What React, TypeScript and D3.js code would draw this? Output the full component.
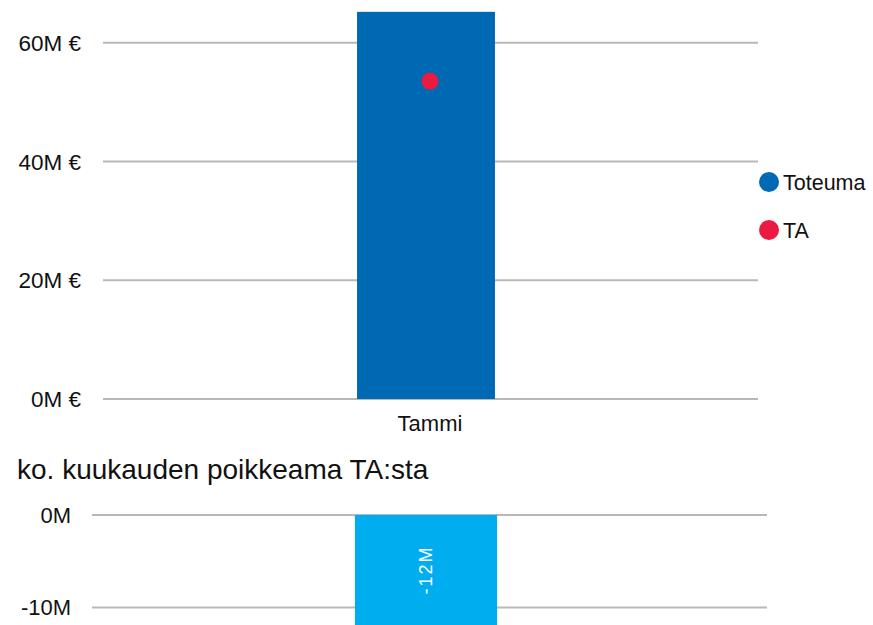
import React from "react";
import * as d3 from "d3";

const categories = ["Tammi"];
const toteuma = [65.2]; // M€
const ta = [53.5]; // M€
const deviation = [-12]; // M
const topTicks = [0, 20, 40, 60];
const bottomTicks = [-10, 0];
const legendItems = ["Toteuma", "TA"];
const bottomTitle = "ko. kuukauden poikkeama TA:sta";

const BLUE = "#0069B4";
const RED = "#EA1A40";
const LIGHT = "#00AEEF";
const GRID = "#b8b8b8";
const FONT = "'Liberation Sans', Arial, sans-serif";

export default function App() {
  const W = 873;
  const H = 625;

  // top chart
  const yTop = d3.scaleLinear().domain([0, 60]).range([399, 42.7]);
  const xTop = d3.scaleBand().domain(categories).range([95, 757]).paddingInner(0).paddingOuter(1.9);
  const gridTop: [number, number] = [103, 758];

  // bottom chart
  const yBot = d3.scaleLinear().domain([-10, 0]).range([607.5, 515]);
  const xBot = d3.scaleBand().domain(categories).range([92, 760]).paddingInner(0).paddingOuter(1.85);
  const gridBot: [number, number] = [92, 767];

  const legendColors = [BLUE, RED];

  return (
    <svg
      width={W}
      height={H}
      style={{ position: "absolute", left: 0, top: 0, background: "#fff" }}
      fontFamily={FONT}
    >
      {/* top grid */}
      {topTicks.map((t) => (
        <g key={"tt" + t}>
          <line x1={gridTop[0]} x2={gridTop[1]} y1={yTop(t)} y2={yTop(t)} stroke={GRID} strokeWidth={2} />
          <text x={81} y={yTop(t)} dy="0.36em" textAnchor="end" fontSize={22.5} fill="#111">
            {`${t}M €`}
          </text>
        </g>
      ))}
      {/* top bars */}
      {categories.map((c, i) => (
        <rect
          key={"b" + c}
          x={xTop(c)!}
          width={xTop.bandwidth()}
          y={yTop(toteuma[i])}
          height={yTop(0) - yTop(toteuma[i])}
          fill={BLUE}
        />
      ))}
      {categories.map((c, i) => (
        <circle key={"d" + c} cx={xTop(c)! + xTop.bandwidth() / 2 + 4} cy={yTop(ta[i])} r={8.5} fill={RED} />
      ))}
      {categories.map((c) => (
        <text key={"l" + c} x={xTop(c)! + xTop.bandwidth() / 2 + 4} y={431} textAnchor="middle" fontSize={22} fill="#111">
          {c}
        </text>
      ))}
      {/* legend */}
      {legendItems.map((name, i) => (
        <g key={name}>
          <circle cx={769} cy={182 + i * 48} r={10} fill={legendColors[i]} />
          <text x={783} y={182 + i * 48} dy="0.36em" fontSize={21.5} fill="#111">
            {name}
          </text>
        </g>
      ))}

      {/* bottom title */}
      <text x={17} y={479} fontSize={28} fill="#111">
        {bottomTitle}
      </text>

      {/* bottom grid */}
      {bottomTicks.map((t) => (
        <g key={"bt" + t}>
          <line x1={gridBot[0]} x2={gridBot[1]} y1={yBot(t)} y2={yBot(t)} stroke={GRID} strokeWidth={2} />
          <text x={71} y={yBot(t)} dy="0.36em" textAnchor="end" fontSize={22} fill="#111">
            {`${t}M`}
          </text>
        </g>
      ))}
      {categories.map((c, i) => {
        const v = deviation[i];
        const y0 = yBot(Math.max(0, v));
        const y1 = yBot(Math.min(0, v));
        const cx = xBot(c)! + xBot.bandwidth() / 2;
        const cy = (y0 + Math.min(y1, H)) / 2;
        return (
          <g key={"db" + c}>
            <rect x={xBot(c)!} width={xBot.bandwidth()} y={y0} height={y1 - y0} fill={LIGHT} />
            <text
              transform={`translate(${cx},${cy}) rotate(-90)`}
              textAnchor="middle"
              dy="0.36em"
              fontSize={18}
              letterSpacing={2}
              fill="#fff"
            >
              {`${v}M`}
            </text>
          </g>
        );
      })}
    </svg>
  );
}
